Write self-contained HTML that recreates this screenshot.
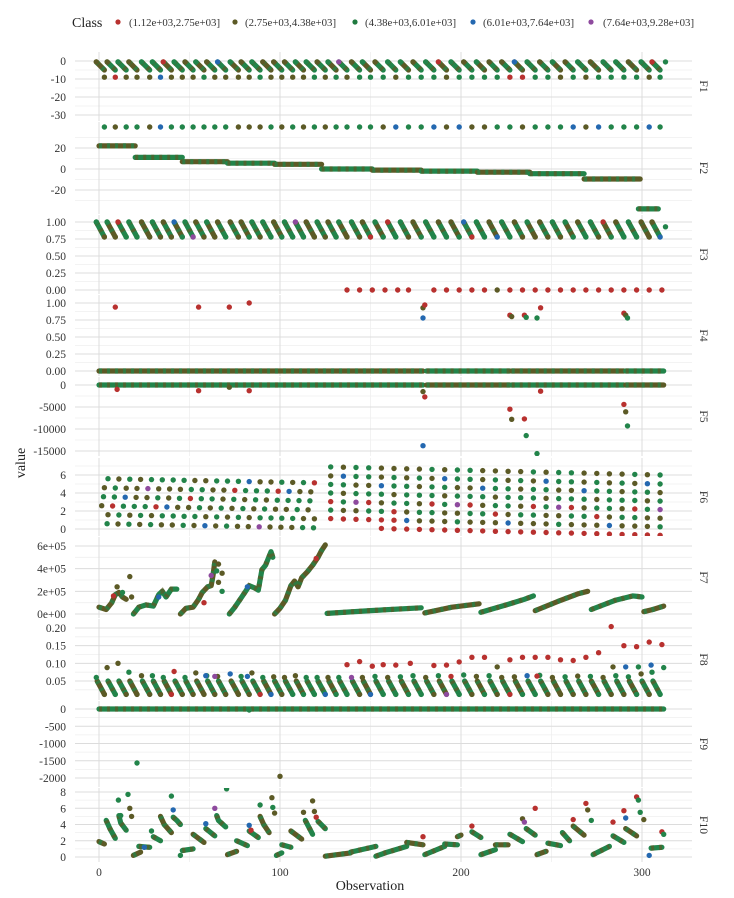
<!DOCTYPE html>
<html><head><meta charset="utf-8"><title>Feature values by observation</title>
<style>
html,body{margin:0;padding:0;background:#fff;}
svg{display:block;font-family:"Liberation Serif",serif;}
</style></head>
<body>
<svg id="chart" width="734" height="898" viewBox="0 0 734 898" xmlns="http://www.w3.org/2000/svg">
  <g>
    <text x="72" y="27" font-size="14" fill="#222">Class</text>
    <circle cx="118" cy="22" r="2.6" fill="#b8312f"/>
    <text x="129" y="26" font-size="10.8" fill="#333">(1.12e+03,2.75e+03]</text>
    <circle cx="235" cy="22" r="2.6" fill="#5c5a26"/>
    <text x="245" y="26" font-size="10.8" fill="#333">(2.75e+03,4.38e+03]</text>
    <circle cx="355" cy="22" r="2.6" fill="#1f7a3f"/>
    <text x="365" y="26" font-size="10.8" fill="#333">(4.38e+03,6.01e+03]</text>
    <circle cx="473" cy="22" r="2.6" fill="#2468b0"/>
    <text x="483" y="26" font-size="10.8" fill="#333">(6.01e+03,7.64e+03]</text>
    <circle cx="591" cy="22" r="2.6" fill="#8e4a9e"/>
    <text x="603" y="26" font-size="10.8" fill="#333">(7.64e+03,9.28e+03]</text>
  </g>
  <text x="0" y="0" font-size="14" fill="#222" text-anchor="middle" transform="translate(25,463) rotate(-90)">value</text>
  <text x="370" y="890" font-size="14" fill="#222" text-anchor="middle">Observation</text>
</svg>
<script>
// ---------- data ----------
const xTicks = [0, 100, 200, 300];
const xTickLabels = ["0", "100", "200", "300"];
const cycles = [3,9,15,21,28,34,40,46,52,58,64,70,77,83,89,95,101,107,113,119,125,131,137,144,150,157,164,171,178,185,192,199,206,213,220,227,234,241,248,255,262,269,276,283,290,297,304,310];
const classSeq = "2121121220212132121112212412122120212113212121221201211222132121";
const f1Top = -0.5, f1Bot = -5, f1Row = -9;
const f1RowCls = "101113111211112111121212221222122220022121222212";
const f2RowVal = 40;
const f2RowCls = "212213222222111212121222213223131122122231322232";
const f2Steps = [[0,20,22],[20,46,11],[46,71,7],[71,97,5.5],[97,123,4.5],[123,151,0],[151,178,-1],[178,209,-2],[209,238,-3],[238,268,-4.5],[268,299,-9.5],[298,309,-38]];
const f3Top = 1.0, f3Bot = 0.78;
const f3Zero = [137,144,151,158,165,171,185,192,199,206,213,220,227,234,241,248,255,262,269,276,283,290,297,304,311];
const f4Segs = [[0,179],[181,227],[228,290],[291,312]];
const f4Dots = [[9,0.94,0],[55,0.94,0],[72,0.94,0],[83,1.0,0],[179,0.93,1],[180,0.97,0],[179,0.78,3],[227,0.82,0],[228,0.8,1],[235,0.82,0],[236,0.79,2],[242,0.78,2],[244,0.93,0],[290,0.85,0],[291,0.82,1],[292,0.78,2]];
const f5Dots = [[10,-1000,0],[55,-1300,0],[72,-500,1],[83,-1300,0],[179,-1500,1],[180,-2700,0],[179,-13800,3],[227,-5500,0],[228,-7800,1],[235,-7700,0],[236,-11500,2],[242,-15600,2],[244,-1400,0],[290,-4400,0],[291,-6100,1],[292,-9300,2]];
const f6LeftCols = [4,10,16,22,28,34,40,46,52,58,64,70,76,82,88,94,100,106,112,118];
const f6LeftLevels = [5.6,4.6,3.6,2.6,1.6,0.6];
const f6LeftDrift = -0.5;
const f6RightCols = [128,135,142,149,156,163,170,177,184,191,198,205,212,219,226,233,240,247,254,261,268,275,282,289,296,303,310];
const f6RightLevels = [6.9,5.9,4.95,4.0,3.05,2.1,1.15,0.2];
const f6RightDrift = -0.9;
const f7Groups = [
 [[0,0.6],[4,0.4],[7,1.0],[9,1.7],[11,1.9],[13,1.5],[15,1.3]],
 [[19,0],[22,0.6],[26,0.8],[30,0.7],[33,1.7],[35,2.0],[37,1.5],[40,2.2],[43,2.2]],
 [[45,0],[48,0.5],[52,0.6],[55,1.3],[57,1.9],[60,2.4],[62,2.5],[63,3.4],[64,4.6]],
 [[72,0],[75,0.6],[78,1.3],[81,2.0],[83,2.5],[86,2.3],[88,2.1],[90,3.9],[92,4.3],[95,5.5],[96,5.0]],
 [[97,0],[100,0.5],[103,1.2],[106,2.5],[108,2.9],[110,2.4],[112,3.2],[115,3.7],[118,4.3],[121,5.0],[123,5.6],[125,6.1]],
 [[126,0.05],[150,0.3],[178,0.55]],
 [[180,0.1],[195,0.6],[210,0.9]],
 [[211,0.15],[225,0.8],[235,1.3],[240,1.6]],
 [[241,0.3],[255,1.2],[265,1.8],[270,2.0]],
 [[272,0.4],[285,1.2],[295,1.6],[300,1.5]],
 [[301,0.2],[306,0.4],[312,0.7]]
];
const f7Dots = [[10,2.4,1],[8,1.6,0],[13,1.9,2],[17,3.3,1],[18,1.5,1],[33,1.5,3],[58,1.0,0],[65,3.8,2],[66,4.4,1],[66,2.8,1],[68,2.0,2],[68,3.6,1],[62,3.4,4],[82,2.4,3],[120,4.9,0]];
const f8Up = [0.06,0.088,0.1,0.075,0.065,0.065,0.06,0.077,0.06,0.073,0.065,0.063,0.07,0.063,0.073,0.06,0.062,0.06,0.065,0.06,0.06,0.06,0.06,0.06,0.06,0.063,0.06,0.062,0.065,0.06,0.065,0.063,0.067,0.063,0.065,0.06,0.062,0.065,0.066,0.06,0.062,0.064,0.063,0.06,0.065,0.062,0.07,0.075];
const f8StrokeTop = 0.05, f8StrokeBot = 0.012;
const f8Extra = [[137,0.096,0],[144,0.105,0],[151,0.092,0],[157,0.096,0],[164,0.095,0],[172,0.1,0],[185,0.094,0],[192,0.095,0],[199,0.104,0],[206,0.117,0],[213,0.117,0],[220,0.09,1],[227,0.11,0],[234,0.117,0],[241,0.117,0],[242,0.064,0],[248,0.117,0],[255,0.11,0],[262,0.108,0],[269,0.117,0],[276,0.13,0],[283,0.204,0],[284,0.09,1],[290,0.15,0],[291,0.09,3],[297,0.147,0],[298,0.09,2],[304,0.16,0],[305,0.095,3],[311,0.153,0],[312,0.088,2],[59,0.065,3],[64,0.063,4],[82,0.063,3]];
const f9Dots = [[21,-1565,2],[100,-1950,1],[83,-30,2]];
const f10Streaks = [
 [[0,1.9],[3,1.6]],[[4,4.5],[6,3.5],[9,2.3]],[[11,5.1],[12,4.2],[15,3.3]],[[19,0.2],[23,0.6]],[[22,1.3],[28,1.2]],
 [[30,2.5],[34,2.0]],[[34,5.0],[36,4.0],[40,3.0]],[[41,4.9],[43,4.5],[45,4.0]],[[46,0.8],[52,1.0]],[[52,2.8],[58,1.8]],
 [[59,3.5],[64,2.6]],[[65,5.1],[66,4.5],[70,3.7]],[[71,0.3],[76,0.7]],[[76,2.0],[82,1.4]],[[83,3.2],[88,2.4]],
 [[89,5.0],[91,4.0],[94,3.0]],[[98,0.2],[101,0.5]],[[101,1.5],[106,1.2]],[[106,3.2],[112,2.2]],[[114,4.5],[118,2.8]],
 [[121,4.4],[125,3.5]],[[125,0.1],[139,0.5]],[[139,0.6],[153,1.3]],[[153,0.1],[158,0.5],[170,1.3]],[[170,1.8],[179,1.5]],
 [[180,0.3],[191,1.3]],[[191,1.6],[198,1.5]],[[198,2.5],[200,2.7]],[[206,3.1],[211,2.4]],[[211,0.3],[219,0.9]],
 [[219,1.5],[226,1.5]],[[227,2.8],[234,1.9]],[[236,3.5],[241,2.7]],[[242,0.3],[247,0.7]],[[248,1.7],[255,1.4]],
 [[256,3.0],[260,2.0]],[[262,3.8],[268,2.7]],[[273,0.3],[282,1.3]],[[284,2.6],[290,1.8]],[[291,3.5],[297,2.6]],
 [[305,1.1],[311,1.2]]
];
const f10Dots = [[10.7,7.0,2],[12,5.1,2],[16,7.7,2],[17,6.0,1],[18,5.0,1],[29,3.2,2],[25,1.2,3],[40,7.5,2],[41,5.8,3],[45,0.2,2],[59,4.1,3],[64,6.0,4],[70.5,8.4,2],[83,3.9,3],[84,3.3,0],[89,6.4,2],[95.5,7.3,1],[96,6.1,2],[97,5.4,1],[113,5.5,1],[118,6.9,1],[119,5.6,1],[120,4.9,0],[179,2.5,0],[206,3.8,0],[234,4.7,1],[235,4.3,4],[241,6.0,0],[262,4.6,0],[269,6.6,0],[270,5.8,1],[272,4.5,2],[284,4.3,0],[290,5.7,0],[291,4.8,3],[297,7.4,0],[298,7.0,2],[299,5.5,2],[301,4.6,1],[304,0.2,3],[311,3.1,0],[312,2.8,2]];

// ---------- panels ----------
const panels = [
 {name:"F1", top:52, bot:121, v1:0, y1:61, v2:-30, y2:115, major:[0,-10,-20,-30], minor:[-5,-15,-25,-35], labels:["0","-10","-20","-30"]},
 {name:"F2", top:122, bot:214, v1:20, y1:148, v2:0, y2:169, major:[20,0,-20], minor:[30,10,-10,-30], labels:["20","0","-20"]},
 {name:"F3", top:215, bot:294, v1:1, y1:222, v2:0, y2:290, major:[1,0.75,0.5,0.25,0], minor:[0.875,0.625,0.375,0.125], labels:["1.00","0.75","0.50","0.25","0.00"]},
 {name:"F4", top:295, bot:376, v1:1, y1:303, v2:0, y2:371, major:[1,0.75,0.5,0.25,0], minor:[0.875,0.625,0.375,0.125], labels:["1.00","0.75","0.50","0.25","0.00"]},
 {name:"F5", top:377, bot:456, v1:0, y1:385, v2:-15000, y2:451, major:[0,-5000,-10000,-15000], minor:[-2500,-7500,-12500], labels:["0","-5000","-10000","-15000"]},
 {name:"F6", top:458, bot:536, v1:6, y1:475, v2:0, y2:529, major:[6,4,2,0], minor:[7,5,3,1], labels:["6","4","2","0"]},
 {name:"F7", top:537, bot:618, v1:6, y1:546, v2:0, y2:614, major:[6,4,2,0], minor:[5,3,1], labels:["6e+05","4e+05","2e+05","0e+00"]},
 {name:"F8", top:619, bot:700, v1:0.2, y1:628, v2:0.05, y2:681, major:[0.2,0.15,0.1,0.05], minor:[0.175,0.125,0.075,0.025], labels:["0.20","0.15","0.10","0.05"]},
 {name:"F9", top:701, bot:787, v1:0, y1:709, v2:-2000, y2:778, major:[0,-500,-1000,-1500,-2000], minor:[-250,-750,-1250,-1750], labels:["0","-500","-1000","-1500","-2000"]},
 {name:"F10", top:788, bot:862, v1:8, y1:792, v2:0, y2:857, major:[8,6,4,2,0], minor:[7,5,3,1], labels:["8","6","4","2","0"]}
];
const COLORS = ["#b8312f","#5c5a26","#22844a","#2468b0","#8e4a9e"];
const NS = "http://www.w3.org/2000/svg";
const svg = document.getElementById("chart");
const X0 = 75, X1 = 692;
function xs(o){ return 99 + o * 1.81; }
function ys(p, v){ return p.y1 + (v - p.v1) * (p.y2 - p.y1) / (p.v2 - p.v1); }
function cls(i){ return +classSeq[i % classSeq.length]; }
function mk(tag, attrs, parent){
  const e = document.createElementNS(NS, tag);
  for (const k in attrs) e.setAttribute(k, attrs[k]);
  parent.appendChild(e);
  return e;
}
function dot(p, g, o, v, c, name){
  const e = mk("circle", {cx: xs(o).toFixed(1), cy: ys(p, v).toFixed(1), r: 2.7, fill: COLORS[c]}, g);
  
  
  return e;
}
function streak(p, g, pts, c, name){
  const d = pts.map(q => xs(q[0]).toFixed(1) + "," + ys(p, q[1]).toFixed(1)).join(" ");
  const a = mk("polyline", {points: d, fill: "none", stroke: COLORS[c], "stroke-width": 5.2, "stroke-linecap": "round", "stroke-linejoin": "round"}, g);
  
  
  const c2 = c === 2 ? 1 : 2;
  const b = mk("polyline", {points: d, fill: "none", stroke: COLORS[c2], "stroke-width": 5.2, "stroke-dasharray": "3 5", opacity: 0.7}, g);
  
  
}

panels.forEach((p, pi) => {
  const g = mk("g", {}, svg);
  
  
  const clipId = "clip" + pi;
  const cp = mk("clipPath", {id: clipId}, g);
  mk("rect", {x: X0, y: p.top, width: X1 - X0, height: p.bot - p.top}, cp);
  p.minor.forEach(v => {
    const y = ys(p, v); if (y < p.top || y > p.bot) return;
    const l = mk("line", {x1: X0, x2: X1, y1: y, y2: y, stroke: "#efefef", "stroke-width": 0.8}, g);
    
    
  });
  [50,150,250].forEach(o => {
    const l = mk("line", {x1: xs(o), x2: xs(o), y1: p.top, y2: p.bot, stroke: "#efefef", "stroke-width": 0.8}, g);
    
    
  });
  xTicks.forEach(o => {
    const l = mk("line", {x1: xs(o), x2: xs(o), y1: p.top, y2: p.bot, stroke: "#dcdcdc", "stroke-width": 1}, g);
    
    
  });
  p.major.forEach((v, i) => {
    const y = ys(p, v);
    const l = mk("line", {x1: X0, x2: X1, y1: y, y2: y, stroke: "#dcdcdc", "stroke-width": 1}, g);
    
    
    const t = mk("text", {x: 66, y: y + 4, "font-size": 11.5, fill: "#333", "text-anchor": "end"}, g);
    t.textContent = p.labels[i];
    
    
  });
  const st = mk("text", {"font-size": 11.5, fill: "#333", "text-anchor": "middle", transform: "translate(700," + ((p.top + p.bot) / 2) + ") rotate(90)"}, g);
  st.textContent = p.name;
  
  
  p.g = mk("g", {"clip-path": "url(#" + clipId + ")"}, g);
  
  
});

const [P1,P2,P3,P4,P5,P6,P7,P8,P9,P10] = panels;

// F1
cycles.forEach((c, i) => {
  streak(P1, P1.g, [[c - 4.5, f1Top], [c, f1Bot]], i % 3 === 0 ? 1 : 2, 'f1-stroke');
  dot(P1, P1.g, c - 4.5, f1Top, cls(i + 3), 'f1-top-point');
  dot(P1, P1.g, c, f1Row, +f1RowCls[i % f1RowCls.length], 'f1-row-point');
});
dot(P1, P1.g, 313, -0.5, 2, 'f1-last-point');
// F2
f2Steps.forEach((s, i) => streak(P2, P2.g, [[s[0], s[2]], [s[1], s[2]]], i % 2 ? 2 : 1, 'f2-step'));
cycles.forEach((c, i) => dot(P2, P2.g, c, f2RowVal, +f2RowCls[i % f2RowCls.length], 'f2-row-point'));
// F3
cycles.forEach((c, i) => {
  streak(P3, P3.g, [[c - 4.5, f3Top], [c, f3Bot]], i % 3 === 1 ? 1 : 2, 'f3-stroke');
  dot(P3, P3.g, c - 4.5, f3Top, cls(i + 7), 'f3-top-point');
  dot(P3, P3.g, c, f3Bot, cls(i * 3 + 1), 'f3-bottom-point');
});
dot(P3, P3.g, 313, 0.93, 2, 'f3-last-point');
f3Zero.forEach((o, i) => dot(P3, P3.g, o, 0, o === 220 ? 1 : 0, 'f3-zero-point'));
// F4
f4Segs.forEach((s, i) => streak(P4, P4.g, [[s[0], 0], [s[1], 0]], i % 2 ? 2 : 1, 'f4-zero-line'));
f4Dots.forEach(d => dot(P4, P4.g, d[0], d[1], d[2], 'f4-point'));
// F5
f4Segs.forEach((s, i) => streak(P5, P5.g, [[s[0], 0], [s[1], 0]], i % 2 ? 1 : 2, 'f5-zero-line'));
f5Dots.forEach(d => dot(P5, P5.g, d[0], d[1], d[2], 'f5-point'));
// F6
const rowOffL = [1, -1, -1.5, -2.5, 1, 0.5];
f6LeftCols.forEach((o, ci) => {
  const dr = f6LeftDrift * o / 125;
  f6LeftLevels.forEach((lv, ri) => dot(P6, P6.g, o + rowOffL[ri], lv + dr, cls(ci * 6 + ri), 'f6-point'));
});
f6RightCols.forEach((o, ci) => {
  const dr = f6RightDrift * (o - 128) / 182;
  f6RightLevels.forEach((lv, ri) => {
    const v = lv + dr;
    if (ci < 4 && ri === 7) return;
    const c = (ri === 7 || (ri === 6 && ci < 6)) ? 0 : cls(ci * 8 + ri + 5);
    dot(P6, P6.g, o, v, c, 'f6-point');
  });
});
// F7
f7Groups.forEach((gp, i) => streak(P7, P7.g, gp, i % 2 ? 2 : 1, 'f7-group'));
f7Dots.forEach(d => dot(P7, P7.g, d[0], d[1], d[2], 'f7-point'));
// F8
cycles.forEach((c, i) => {
  streak(P8, P8.g, [[c - 4, f8StrokeTop], [c, f8StrokeBot]], i % 3 === 0 ? 1 : 2, 'f8-stroke');
  dot(P8, P8.g, c - 4.5, f8Up[i % f8Up.length], cls(i + 2), 'f8-upper-point');
  dot(P8, P8.g, c, f8StrokeBot, cls(i * 5 + 3), 'f8-bottom-point');
});
f8Extra.forEach(d => dot(P8, P8.g, d[0], d[1], d[2], 'f8-point'));
// F9
streak(P9, P9.g, [[0, 0], [312, 0]], 2, 'f9-zero-line');
f9Dots.forEach(d => dot(P9, P9.g, d[0], d[1], d[2], 'f9-point'));
// F10
f10Streaks.forEach((s, i) => streak(P10, P10.g, s, i % 3 === 0 ? 1 : 2, 'f10-streak'));
f10Dots.forEach(d => dot(P10, P10.g, d[0], d[1], d[2], 'f10-point'));

// x tick labels
xTicks.forEach((o, i) => {
  const t = mk("text", {x: xs(o), y: 876, "font-size": 11.5, fill: "#333", "text-anchor": "middle"}, svg);
  t.textContent = xTickLabels[i];
  
  
});
</script>
</body></html>
